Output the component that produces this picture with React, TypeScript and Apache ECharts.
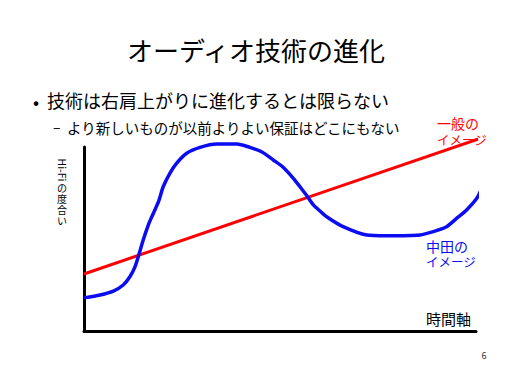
import React, { useEffect, useRef } from "react";
import * as echarts from "echarts";

const FONT = "'Noto Sans CJK JP', 'Noto Sans', sans-serif";

const titleText = "オーディオ技術の進化";
const bulletText = "技術は右肩上がりに進化するとは限らない";
const subBulletText = "より新しいものが以前よりよい保証はどこにもない";
const yAxisLatin = "Hi-Fi";
const yAxisJapanese = ["の", "度", "合", "い"];
const xAxisName = "時間軸";
const generalLabel = ["一般の", "イメージ"];
const nakataLabel = ["中田の", "イメージ"];
const pageNumber = "6";

// 一般のイメージ (straight rising line)
const generalX = [0, 101.5];
const generalY = [31, 105];

// 中田のイメージ (hand-drawn curve)
const nakataX = [0, 4.1, 7.5, 10.0, 11.7, 13.0, 14.1, 15.1, 16.4, 17.3, 19.0, 20.2, 21.9, 23.6, 26.2, 29.6, 33.9, 39.0, 42.3, 45.3, 48.3, 50.8, 53.4, 55.1, 56.8, 58.5, 60.2, 61.9, 66.1, 72.1, 77.2, 85.7, 89.1, 92.5, 95.1, 97.6, 100.2, 101.5];
const nakataY = [18, 19.6, 21.7, 25.0, 29.5, 34.9, 42.2, 49.5, 57.6, 62.1, 70.3, 78.4, 85.7, 91.1, 96.6, 99.8, 101.6, 101.6, 99.8, 97.4, 92.9, 89.0, 83.0, 78.4, 73.6, 68.5, 65.2, 62.1, 56.7, 52.2, 51.8, 52.2, 54.0, 56.7, 61.3, 65.8, 72.1, 77.6];

const zip = (xs: number[], ys: number[]) => xs.map((x, i) => [x, ys[i]]);

function txt(text: string, x: number, y: number, size: number, fill: string, align = "left", extra: any = {}, styleExtra: any = {}) {
  return {
    type: "text",
    x,
    y,
    ...extra,
    style: {
      text,
      fill,
      fontSize: size,
      fontFamily: FONT,
      align,
      verticalAlign: "middle",
      textAlign: align,
      textVerticalAlign: "middle",
      ...styleExtra,
    },
  };
}

export default function App() {
  const ref = useRef<HTMLDivElement>(null);
  useEffect(() => {
    if (!ref.current) return;
    const chart = echarts.init(ref.current, undefined, { renderer: "svg" });
    const axisCommon = {
      type: "value",
      min: 0,
      max: 100,
      axisLine: { show: true, lineStyle: { color: "#000", width: 3 } },
      axisTick: { show: false },
      axisLabel: { show: false },
      splitLine: { show: false },
    };
    chart.setOption({
      animation: false,
      backgroundColor: "#fff",
      grid: { left: 84, top: 147, width: 392, height: 184 },
      xAxis: { ...axisCommon },
      yAxis: { ...axisCommon },
      series: [
        {
          name: "一般のイメージ",
          type: "line",
          data: zip(generalX, generalY),
          showSymbol: false,
          clip: false,
          lineStyle: { color: "#ff0000", width: 3 },
        },
        {
          name: "中田のイメージ",
          type: "line",
          data: zip(nakataX, nakataY),
          showSymbol: false,
          smooth: 0.25,
          clip: false,
          lineStyle: { color: "#0c0cf0", width: 3.5 },
        },
      ],
      graphic: [
        txt(titleText, 256, 49, 26, "#000", "center"),
        txt("•", 36, 101, 18, "#000", "center"),
        txt(bulletText, 47, 100, 18, "#000"),
        txt("–", 53, 126, 14, "#000"),
        txt(subBulletText, 67, 127, 14.5, "#000"),
        txt(generalLabel[0], 437, 123, 14, "#ff0000"),
        txt(generalLabel[1], 437, 139, 12.5, "#ff0000"),
        txt(nakataLabel[0], 426, 246, 14, "#0c0cf0"),
        txt(nakataLabel[1], 426, 261, 12.5, "#0c0cf0"),
        txt(xAxisName, 426, 318, 15, "#000"),
        txt(yAxisLatin, 62, 170, 10.5, "#000", "center", { rotation: -Math.PI / 2 }),
        txt(yAxisJapanese.join("\n"), 62, 203.5, 10, "#000", "center", {}, { lineHeight: 11 }),
        txt(pageNumber, 484, 355, 9, "#333", "center"),
      ],
    });
    return () => chart.dispose();
  }, []);
  return <div ref={ref} style={{ position: "fixed", left: 0, top: 0, width: 512, height: 384 }} />;
}
